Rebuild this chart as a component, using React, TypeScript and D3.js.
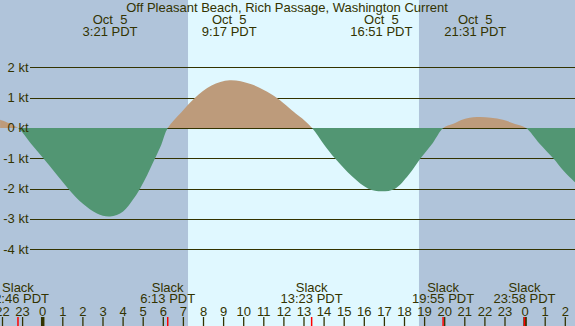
import React from 'react';
import * as d3 from 'd3';

// predicted current, hours from midnight Oct 5 (PDT) and knots
const sampleHours = [
  -2.12, -1.23, -0.6, 0.03, 0.65, 1.27, 2.0, 2.7, 3.35, 4.0, 4.5, 4.84, 5.2, 5.59, 5.9, 6.22,
  6.9, 7.58, 8.4, 9.3, 10.3, 11.0, 11.64, 12.0, 12.5, 12.9, 13.4,
  14.0, 14.54, 15.4, 16.2, 16.87, 17.53, 18.2, 18.8, 19.4, 19.93,
  20.4, 20.9, 21.6, 22.3, 22.9, 23.5, 24.04,
  24.7, 25.4, 25.9, 26.5,
];
const sampleKnots = [
  0.27, 0, -0.5, -1, -1.5, -2, -2.5, -2.82, -2.92, -2.75, -2.35, -2, -1.55, -1, -0.55, 0,
  0.52, 1.0, 1.4, 1.57, 1.46, 1.25, 1.0, 0.81, 0.53, 0.32, 0,
  -0.55, -1, -1.6, -2, -2.09, -2, -1.55, -1, -0.5, 0,
  0.13, 0.28, 0.36, 0.34, 0.27, 0.13, 0,
  -0.5, -1, -1.4, -1.8,
];

// max current events shown on top
const peakHours = [3.35, 9.28, 16.85, 21.52];
const peakLabels = ['3:21 PDT', '9:17 PDT', '16:51 PDT', '21:31 PDT'];

// slack water events shown at bottom
const slackHours = [-1.23, 6.22, 13.38, 19.92, 23.97];
const slackLabels = ['22:46 PDT', '6:13 PDT', '13:23 PDT', '19:55 PDT', '23:58 PDT'];

const knotTicks = [2, 1, 0, -1, -2, -3, -4];
const sunrise = 7.23;
const sunset = 18.72;

const W = 575;
const H = 326;
const ink = '#333300';
const font = '"Liberation Sans", Arial, sans-serif';
const fs = 13;

export default function App() {
  const x = d3.scaleLinear().domain([0, 24]).range([42.7, 525.1]);
  const y = d3.scaleLinear().domain([2, -4]).range([67.3, 249.3]);

  const pts = sampleHours.map((h, i) => [h, sampleKnots[i]] as [number, number]);
  const area = d3
    .area<[number, number]>()
    .x((d) => x(d[0]))
    .y0(y(0))
    .y1((d) => y(d[1]))
    .curve(d3.curveCatmullRom.alpha(0.5));

  const hours = d3.range(-2, 27);
  const y0 = y(0);

  return (
    <svg width={W} height={H} style={{ position: 'absolute', left: 0, top: 0 }} fontFamily={font}>
      <defs>
        <clipPath id="above">
          <rect x={0} y={0} width={W} height={y0} />
        </clipPath>
        <clipPath id="below">
          <rect x={0} y={y0} width={W} height={H - y0} />
        </clipPath>
      </defs>
      <rect x={0} y={0} width={W} height={H} fill="#b0c4da" />
      <rect x={x(sunrise)} y={0} width={x(sunset) - x(sunrise)} height={H} fill="#e0f8ff" />

      {knotTicks.map((k) => (
        <line key={k} x1={30} x2={W} y1={Math.round(y(k)) + 0.5} y2={Math.round(y(k)) + 0.5} stroke={ink} strokeWidth={1.2} />
      ))}

      <path d={area(pts) || ''} fill="#bd9b7b" clipPath="url(#above)" />
      <path d={area(pts) || ''} fill="#529673" clipPath="url(#below)" />

      {knotTicks.map((k) => (
        <text key={k} x={28.5} y={y(k) + 4.5} textAnchor="end" fontSize={fs} fill={ink}>
          {k} kt
        </text>
      ))}

      <text x={287} y={11.5} textAnchor="middle" fontSize={fs} fill={ink}>
        Off Pleasant Beach, Rich Passage, Washington Current
      </text>
      {peakHours.map((h, i) => (
        <g key={i} fontSize={fs} fill={ink} textAnchor="middle">
          <text x={x(h)} y={24} style={{ whiteSpace: 'pre' }}>
            {'Oct  5'}
          </text>
          <text x={x(h)} y={35.7}>{peakLabels[i]}</text>
        </g>
      ))}

      {slackHours.map((h, i) => (
        <g key={i} fontSize={fs} fill={ink} textAnchor="middle">
          <text x={x(h)} y={291.7}>Slack</text>
          <text x={x(h)} y={303.3}>{slackLabels[i]}</text>
        </g>
      ))}

      {hours.map((h) => (
        <g key={h}>
          <text x={x(h)} y={315.7} textAnchor="middle" fontSize={fs} fill={ink}>
            {((h % 24) + 24) % 24}
          </text>
          <line
            x1={x(h)}
            x2={x(h)}
            y1={317}
            y2={H}
            stroke={ink}
            strokeWidth={h % 24 === 0 ? 3.5 : 1.3}
          />
        </g>
      ))}
      {slackHours.map((h, i) => (
        <line key={i} x1={x(h)} x2={x(h)} y1={317} y2={H} stroke="red" strokeWidth={1.5} />
      ))}
    </svg>
  );
}
